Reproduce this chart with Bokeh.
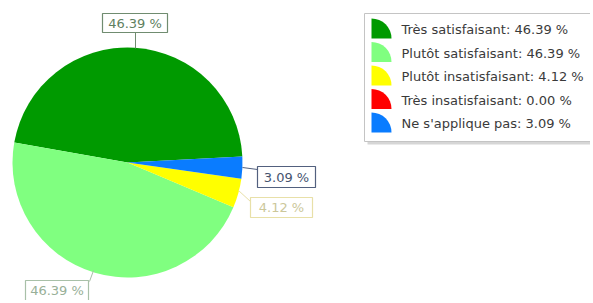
import math
from bokeh.plotting import figure
from bokeh.models import Range1d, ColumnDataSource
from bokeh.core.properties import value
from bokeh.embed import file_html
from bokeh.resources import INLINE

# ---- data ----
categories = ["Très satisfaisant", "Plutôt satisfaisant", "Plutôt insatisfaisant",
              "Très insatisfaisant", "Ne s'applique pas"]
values = [46.39, 46.39, 4.12, 0.00, 3.09]
colors = ["#009a00", "#80ff80", "#ffff00", "#ff0000", "#0a7cff"]

# ---- layout helpers (reference pixel coords -> data coords) ----
H = 303
W_FIG, H_FIG = 590, 300
def Y(py):
    return H - py

p = figure(width=W_FIG, height=H_FIG, x_range=Range1d(0, W_FIG), y_range=Range1d(H - H_FIG, H),
           output_backend="svg", toolbar_location=None, min_border=0)
p.axis.visible = False
p.grid.visible = False
p.outline_line_color = None
p.background_fill_color = "white"

FONT = value("DejaVu Sans")
FS = "13px"

# ---- pie ----
cx, cy, r = 127, Y(162), 115
start = math.radians(3)
total = sum(values)
starts, ends, cols = [], [], []
acc = 0.0
for v, c in zip(values, colors):
    s = start + 2 * math.pi * acc / total
    acc += v
    e = start + 2 * math.pi * acc / total
    if v > 0:
        starts.append(s)
        ends.append(e)
        cols.append(c)

src = ColumnDataSource(dict(start=starts, end=ends, color=cols))
p.wedge(x=cx, y=cy, radius=r, start_angle="start", end_angle="end",
        fill_color="color", line_color=None, source=src)

# ---- slice labels (layout positions) ----
label_specs = [
    (0, (102, 13, 167, 32), "#708c70", "#5f7f5f", [(135, 32), (135, 48)]),
    (1, (25, 280, 88, 300), "#a8c0a8", "#98b098", [(93, 270), (89, 281)]),
    (2, (250, 197, 312, 217), "#e8e0a8", "#ccc79a", [(238, 190), (250, 201)]),
    (4, (257, 166, 315, 187), "#52607e", "#46546f", [(242, 167), (257, 169)]),
]
for idx, (x0, y0, x1, y1), bc, tc, line in label_specs:
    p.line(x=[line[0][0], line[1][0]], y=[Y(line[0][1]), Y(line[1][1])],
           line_color=bc, line_width=1)
    p.quad(left=x0, right=x1, top=Y(y0), bottom=Y(y1), fill_color="white",
           line_color=bc, line_width=1.2)
    p.text(x=[(x0 + x1) / 2], y=[Y((y0 + y1) / 2)], text=[f"{values[idx]:.2f} %"],
           text_color=tc, text_font=FONT, text_font_size=FS,
           text_align="center", text_baseline="middle")

# ---- legend ----
lx0, ly0, lx1, ly1 = 364, 13, 600, 141
p.quad(left=lx0 + 3, right=lx1 + 3, top=Y(ly0 + 3), bottom=Y(ly1 + 3),
       fill_color="#d6d6d6", line_color=None)
p.quad(left=lx0, right=lx1, top=Y(ly0), bottom=Y(ly1), fill_color="white",
       line_color="#c4c4c4", line_width=1)

row_y = [29 + 23.5 * i for i in range(len(categories))]
icon_src = ColumnDataSource(dict(x=[371] * len(categories),
                                 y=[Y(ry + 9) for ry in row_y], color=colors))
p.wedge(x="x", y="y", radius=20, radius_units="screen", start_angle=0,
        end_angle=math.pi / 2, fill_color="color", line_color=None, source=icon_src)
p.text(x=[401] * len(categories), y=[Y(ry) for ry in row_y],
       text=[f"{c}: {v:.2f} %" for c, v in zip(categories, values)],
       text_color="#3a3a3a", text_font=FONT, text_font_size=FS,
       text_align="left", text_baseline="middle")

open("out.html", "w").write(file_html(p, INLINE))
